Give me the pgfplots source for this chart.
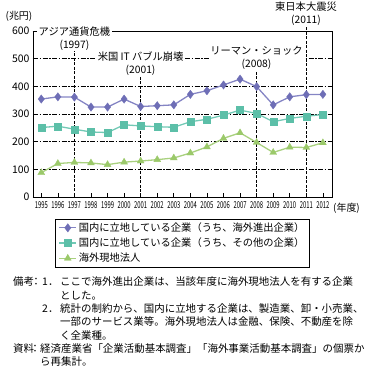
\documentclass[border=0pt]{standalone}
\usepackage{fontspec}
\setmainfont{Noto Sans CJK JP}
\usepackage{graphicx}
\usepackage{pgfplots}
\pgfplotsset{compat=1.18}
\definecolor{cpur}{HTML}{6E6EB6}
\definecolor{cpurl}{HTML}{8585C4}
\definecolor{cteal}{HTML}{5CBFA8}
\definecolor{ctealL}{HTML}{72C9B5}
\definecolor{cgrn}{HTML}{9BC96A}
\definecolor{cgrnL}{HTML}{A9D17F}
\newcommand{\nf}{\fontsize{10.5}{12}\selectfont}
\begin{document}
\begin{tikzpicture}
\useasboundingbox (0,0) rectangle (367bp,369bp);
\begin{axis}[
  at={(33bp,172bp)}, anchor=south west,
  scale only axis, width=299bp, height=166bp,
  xmin=1994.5, xmax=2012.55, ymin=0, ymax=600,
  xtick={1995,...,2012}, ytick={0,100,...,600},
  xtick pos=bottom, ytick pos=left,
  tick align=inside, major tick length=4bp,
  axis line style={line width=0.9bp},
  tick style={black, line width=0.6bp},
  /pgf/number format/assume math mode=true,
  xticklabel={\scalebox{0.62}[1]{\pgfmathprintnumber[1000 sep=]{\tick}}},
  xticklabel style={font=\fontsize{9.5}{10}\selectfont, yshift=-1.5bp},
  yticklabel style={font=\fontsize{10.5}{11}\selectfont},
  ymajorgrids,
  grid style={black, line width=0.7bp, dash pattern=on 5bp off 1.5bp on 1.5bp off 1.5bp},
  clip=false,
  legend style={at={(0.5,-0.132)}, anchor=north, draw=black, line width=0.6bp,
    font=\fontsize{10.3}{12}\selectfont, row sep=1bp, inner xsep=3bp, inner ysep=1.5bp},
  legend cell align=left,
]
\draw[black, line width=0.8bp, dash pattern=on 3bp off 1.5bp] (axis cs:1997,535) -- (axis cs:1997,0);
\draw[black, line width=0.8bp, dash pattern=on 3bp off 1.5bp] (axis cs:2001,434) -- (axis cs:2001,0);
\draw[black, line width=0.8bp, dash pattern=on 3bp off 1.5bp] (axis cs:2008,452) -- (axis cs:2008,0);
\draw[black, line width=0.8bp, dash pattern=on 3bp off 1.5bp] (axis cs:2011,613) -- (axis cs:2011,0);
\addplot[cpurl, line width=1.3bp, mark=diamond*, mark size=4.2bp, mark options={cpur, fill=cpur, line width=0.3bp}]
coordinates {(1995,354) (1996,362) (1997,361) (1998,325) (1999,325) (2000,354) (2001,327) (2002,330) (2003,333) (2004,371) (2005,384) (2006,405) (2007,426) (2008,399) (2009,333) (2010,362) (2011,370) (2012,371)};
\addlegendentry{国内に立地している企業（うち、海外進出企業）}
\addplot[ctealL, line width=1.3bp, mark=square*, mark size=3.5bp, mark options={cteal, fill=cteal, line width=0.3bp}]
coordinates {(1995,251) (1996,256) (1997,245) (1998,235) (1999,233) (2000,261) (2001,257) (2002,254) (2003,252) (2004,272) (2005,281) (2006,296) (2007,314) (2008,302) (2009,272) (2010,284) (2011,292) (2012,298)};
\addlegendentry{国内に立地している企業（うち、その他の企業）}
\addplot[cgrnL, line width=1.3bp, mark=triangle*, mark size=4bp, mark options={cgrn, fill=cgrn, line width=0.3bp}]
coordinates {(1995,88) (1996,121) (1997,125) (1998,123) (1999,117) (2000,126) (2001,130) (2002,135) (2003,141) (2004,159) (2005,181) (2006,212) (2007,232) (2008,197) (2009,161) (2010,180) (2011,179) (2012,196)};
\addlegendentry{海外現地法人}
\end{axis}
% event annotations
\tikzset{ev/.style={fill=white, inner xsep=1.5bp, inner ysep=0.5bp, align=center, font=\fontsize{10.3}{13}\selectfont}}
\node[ev] at (74.4bp,{369bp-38.5bp}) {アジア通貨危機\\(1997)};
\node[ev] at (140.6bp,{369bp-63.5bp}) {米国 IT バブル崩壊\\(2001)};
\node[ev] at (256.5bp,{369bp-58bp}) {リーマン・ショック\\(2008)};
\node[ev] at (306bp,{369bp-13.7bp}) {東日本大震災\\(2011)};
\node[font=\fontsize{10}{12}\selectfont, inner sep=0, anchor=west] at (333bp,161bp) {(年度)};
\node[font=\fontsize{10}{12}\selectfont, inner sep=0] at (19bp,352.5bp) {(兆円)};
% notes
\tikzset{nt/.style={inner sep=0, anchor=west, font=\nf}, nc/.style={inner sep=0, font=\nf}}
\node[nt] at (13bp,{369bp-282bp}) {備考};
\node[nc] at (36bp,{369bp-282bp}) {：};
\node[nt] at (42bp,{369bp-282bp}) {1．};
\node[nt] at (60bp,{369bp-282bp}) {ここで海外進出企業は、当該年度に海外現地法人を有する企業};
\node[nt] at (60bp,{369bp-295.5bp}) {とした。};
\node[nt] at (42bp,{369bp-309bp}) {2．};
\node[nt] at (60bp,{369bp-309bp}) {統計の制約から、国内に立地する企業は、製造業、卸・小売業、};
\node[nt] at (60bp,{369bp-322bp}) {一部のサービス業等。海外現地法人は金融、保険、不動産を除};
\node[nt] at (60bp,{369bp-335.5bp}) {く全業種。};
\node[nt] at (13bp,{369bp-349bp}) {資料};
\node[nc] at (35bp,{369bp-349bp}) {：};
\node[nt] at (40bp,{369bp-349bp}) {経済産業省「企業活動基本調査」「海外事業活動基本調査」の個票か};
\node[nt] at (40bp,{369bp-362bp}) {ら再集計。};
\end{tikzpicture}
\end{document}
